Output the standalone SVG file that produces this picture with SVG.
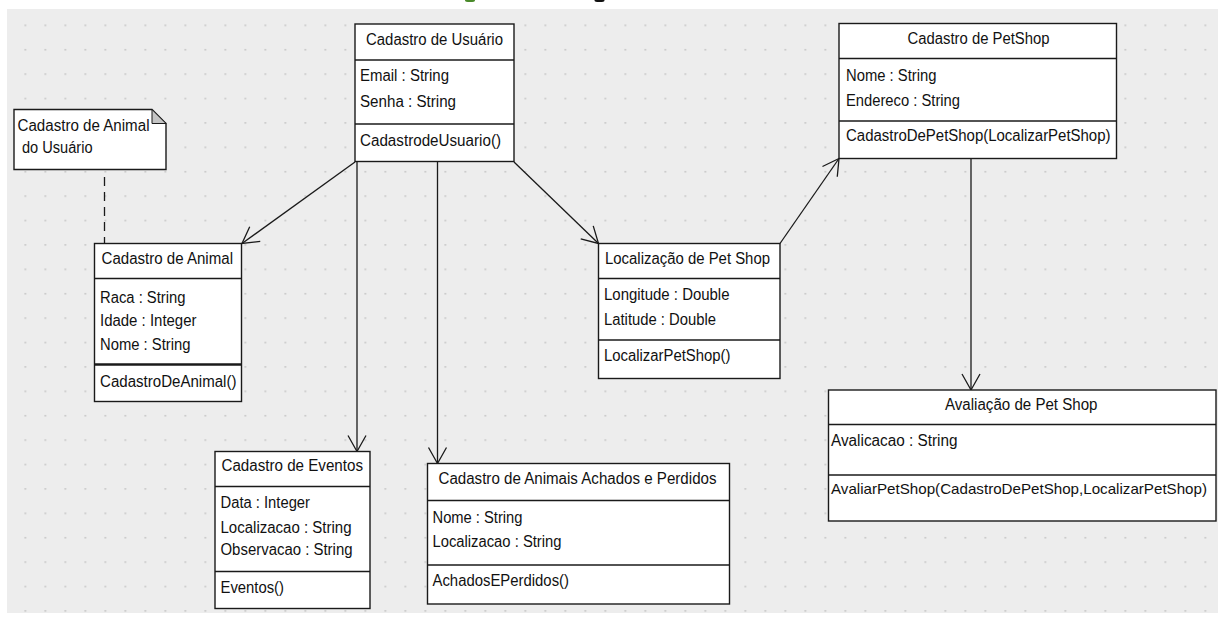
<svg xmlns="http://www.w3.org/2000/svg" width="1224" height="617" viewBox="0 0 1224 617">
<defs>
<style>
.box{fill:#fff;stroke:#1a1a1a;stroke-width:1.4}
.sep{stroke:#1a1a1a;stroke-width:1.4}
.t{font-family:"Liberation Sans",Arial,sans-serif;font-size:16px;fill:#111}
.s{font-size:15px}
.c{fill:none;stroke:#1a1a1a;stroke-width:1.3}
</style>
<pattern id="dots" patternUnits="userSpaceOnUse" x="4.5" y="24.5" width="20" height="24.4">
<rect x="0" y="0" width="1.6" height="1.6" fill="#c2c2c2"/>
</pattern>
<marker id="open" markerUnits="userSpaceOnUse" viewBox="-18 -11 20 22" refX="0" refY="0" markerWidth="20" markerHeight="22" orient="auto">
<path d="M-16,-9 L0,0 L-16,9" fill="none" stroke="#1a1a1a" stroke-width="1.3"/>
</marker>
</defs>
<rect x="0" y="0" width="1224" height="617" fill="#fff"/>
<rect x="7" y="9" width="1211" height="604" fill="#ededed"/>
<rect x="7" y="9" width="1211" height="604" fill="url(#dots)"/>
<ellipse cx="470" cy="0.5" rx="5" ry="1.5" fill="#4a8a2a"/>
<ellipse cx="599.5" cy="0.5" rx="5" ry="1.5" fill="#111"/>

<g id="connectors">
<path class="c" d="M355,162 L242,243.5" marker-end="url(#open)"/>
<path class="c" d="M357,162 V451.5" marker-end="url(#open)"/>
<path class="c" d="M437.5,162 V463.5" marker-end="url(#open)"/>
<path class="c" d="M514,162 L598.5,243.5" marker-end="url(#open)"/>
<path class="c" d="M780,243.5 L839,158.5" marker-end="url(#open)"/>
<path class="c" d="M971,158.5 V390" marker-end="url(#open)"/>
<path class="c" d="M104.5,177 V243.5" stroke-dasharray="9 6"/>
</g>

<g id="note">
<path d="M14,109.5 H152 L166,123.5 V169.5 H14 Z" fill="#fff" stroke="#1a1a1a" stroke-width="1.4"/>
<path d="M152,109.5 V123.5 H166 Z" fill="#c4c4c4" stroke="#1a1a1a" stroke-width="1"/>
<text class="t" x="17.5" y="131" textLength="132" lengthAdjust="spacingAndGlyphs">Cadastro de Animal</text>
<text class="t" x="22" y="153" textLength="70.5" lengthAdjust="spacingAndGlyphs">do Usuário</text>
</g>

<g id="usuario">
<rect class="box" x="355" y="24" width="159" height="137.5"/>
<line class="sep" x1="355" y1="60" x2="514" y2="60"/>
<line class="sep" x1="355" y1="124" x2="514" y2="124"/>
<text class="t" x="366" y="44.5" textLength="137" lengthAdjust="spacingAndGlyphs">Cadastro de Usuário</text>
<text class="t" x="360" y="81" textLength="89" lengthAdjust="spacingAndGlyphs">Email : String</text>
<text class="t" x="360" y="107" textLength="96" lengthAdjust="spacingAndGlyphs">Senha : String</text>
<text class="t" x="360" y="145.5" textLength="141" lengthAdjust="spacingAndGlyphs">CadastrodeUsuario()</text>
</g>

<g id="petshop">
<rect class="box" x="839" y="23.5" width="277.5" height="135"/>
<line class="sep" x1="839" y1="58.5" x2="1116.5" y2="58.5"/>
<line class="sep" x1="839" y1="121" x2="1116.5" y2="121"/>
<text class="t" x="907.5" y="43.5" textLength="142" lengthAdjust="spacingAndGlyphs">Cadastro de PetShop</text>
<text class="t" x="846" y="80.5" textLength="90.5" lengthAdjust="spacingAndGlyphs">Nome : String</text>
<text class="t" x="846" y="105.5" textLength="114" lengthAdjust="spacingAndGlyphs">Endereco : String</text>
<text class="t" x="846" y="141" textLength="264.5" lengthAdjust="spacingAndGlyphs">CadastroDePetShop(LocalizarPetShop)</text>
</g>

<g id="animal">
<rect class="box" x="94.5" y="243.5" width="147" height="158"/>
<line class="sep" x1="94.5" y1="278.5" x2="241.5" y2="278.5"/>
<line x1="94.5" y1="364.5" x2="241.5" y2="364.5" stroke="#1a1a1a" stroke-width="2.6"/>
<text class="t" x="101.5" y="264" textLength="131.5" lengthAdjust="spacingAndGlyphs">Cadastro de Animal</text>
<text class="t" x="100" y="302.5" textLength="85.5" lengthAdjust="spacingAndGlyphs">Raca : String</text>
<text class="t" x="100" y="326" textLength="96.5" lengthAdjust="spacingAndGlyphs">Idade : Integer</text>
<text class="t" x="100" y="349.5" textLength="90.5" lengthAdjust="spacingAndGlyphs">Nome : String</text>
<text class="t" x="100" y="386.5" textLength="136.5" lengthAdjust="spacingAndGlyphs">CadastroDeAnimal()</text>
</g>

<g id="localizacao">
<rect class="box" x="598.5" y="243.5" width="181.5" height="135"/>
<line class="sep" x1="598.5" y1="278.5" x2="780" y2="278.5"/>
<line class="sep" x1="598.5" y1="340" x2="780" y2="340"/>
<text class="t" x="605" y="264" textLength="165" lengthAdjust="spacingAndGlyphs">Localização de Pet Shop</text>
<text class="t" x="604" y="300" textLength="125.5" lengthAdjust="spacingAndGlyphs">Longitude : Double</text>
<text class="t" x="604" y="325" textLength="112" lengthAdjust="spacingAndGlyphs">Latitude : Double</text>
<text class="t" x="604" y="361" textLength="126.5" lengthAdjust="spacingAndGlyphs">LocalizarPetShop()</text>
</g>

<g id="avaliacao">
<rect class="box" x="828.5" y="390" width="387.5" height="131"/>
<line class="sep" x1="828.5" y1="424.5" x2="1216" y2="424.5"/>
<line class="sep" x1="828.5" y1="475" x2="1216" y2="475"/>
<text class="t" x="945" y="409.5" textLength="152.5" lengthAdjust="spacingAndGlyphs">Avaliação de Pet Shop</text>
<text class="t" x="831" y="446" textLength="126.5" lengthAdjust="spacingAndGlyphs">Avalicacao : String</text>
<text class="t s" x="831" y="494" textLength="376" lengthAdjust="spacingAndGlyphs">AvaliarPetShop(CadastroDePetShop,LocalizarPetShop)</text>
</g>

<g id="eventos">
<rect class="box" x="215" y="451.5" width="155" height="157"/>
<line class="sep" x1="215" y1="486.5" x2="370" y2="486.5"/>
<line class="sep" x1="215" y1="571.5" x2="370" y2="571.5"/>
<text class="t" x="221.5" y="470.5" textLength="141.5" lengthAdjust="spacingAndGlyphs">Cadastro de Eventos</text>
<text class="t" x="220.5" y="508" textLength="89.5" lengthAdjust="spacingAndGlyphs">Data : Integer</text>
<text class="t" x="220.5" y="532.5" textLength="131" lengthAdjust="spacingAndGlyphs">Localizacao : String</text>
<text class="t" x="220.5" y="555" textLength="132" lengthAdjust="spacingAndGlyphs">Observacao : String</text>
<text class="t" x="220.5" y="593" textLength="63.5" lengthAdjust="spacingAndGlyphs">Eventos()</text>
</g>

<g id="achados">
<rect class="box" x="427.5" y="463.5" width="302" height="140.5"/>
<line class="sep" x1="427.5" y1="500.5" x2="729.5" y2="500.5"/>
<line class="sep" x1="427.5" y1="565" x2="729.5" y2="565"/>
<text class="t" x="438.5" y="484" textLength="278" lengthAdjust="spacingAndGlyphs">Cadastro de Animais Achados e Perdidos</text>
<text class="t" x="432.5" y="522.5" textLength="90" lengthAdjust="spacingAndGlyphs">Nome : String</text>
<text class="t" x="432.5" y="547" textLength="129" lengthAdjust="spacingAndGlyphs">Localizacao : String</text>
<text class="t" x="432.5" y="586" textLength="136.5" lengthAdjust="spacingAndGlyphs">AchadosEPerdidos()</text>
</g>
</svg>
